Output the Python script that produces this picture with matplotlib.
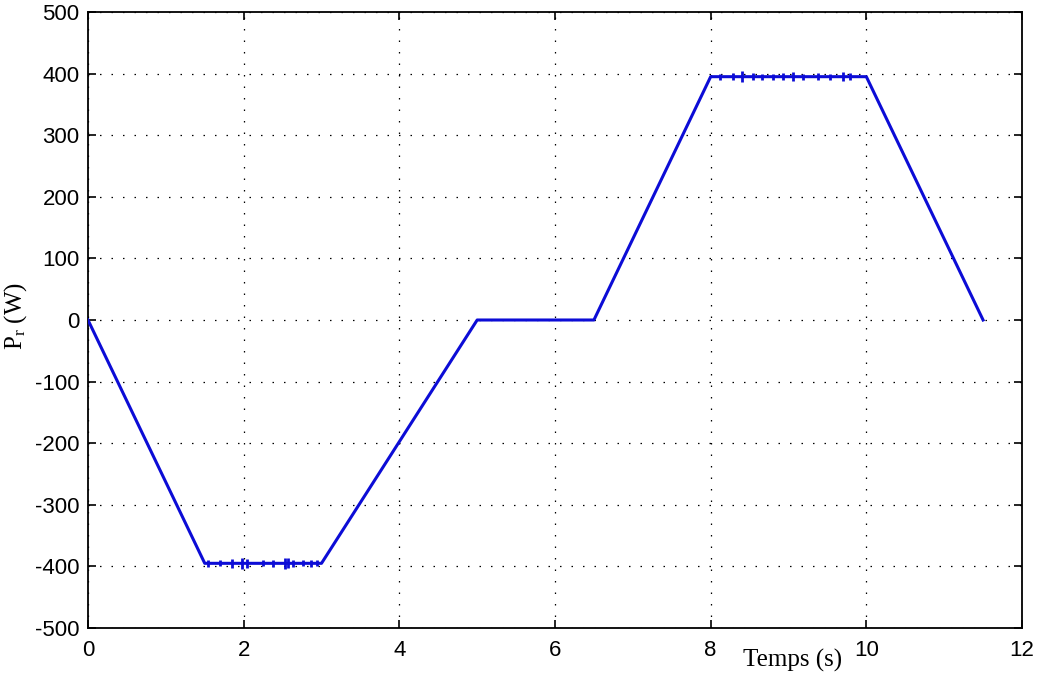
import matplotlib
matplotlib.use("Agg")
import matplotlib.pyplot as plt
import numpy as np

# corner points of the rotor power profile (s, W)
t_pts = [0.0, 1.5, 3.0, 5.0, 6.5, 8.0, 10.0, 11.5]
p_pts = [0.0, -395.0, -395.0, 0.0, 0.0, 395.0, 395.0, 0.0]

# small ripple spikes seen on the plateaus
spk_lo_t = [1.54, 1.70, 1.85, 1.98, 2.04, 2.25, 2.38, 2.53, 2.57, 2.63, 2.76, 2.87, 2.94]
spk_lo_a = [6, 5, 7, 9, 7, 5, 6, 9, 8, 6, 5, 6, 5]
spk_hi_t = [8.12, 8.29, 8.40, 8.54, 8.66, 8.80, 8.93, 9.06, 9.18, 9.38, 9.53, 9.70, 9.79]
spk_hi_a = [5, 6, 9, 6, 5, 5, 6, 7, 5, 6, 5, 7, 6]
spk_lo_base = -395.0
spk_hi_base = 395.0

xticks = [0, 2, 4, 6, 8, 10, 12]
yticks = [-500, -400, -300, -200, -100, 0, 100, 200, 300, 400, 500]

plt.rcParams['mathtext.fontset'] = 'custom'
plt.rcParams['mathtext.rm'] = 'Liberation Serif'
plt.rcParams['mathtext.it'] = 'Liberation Serif:italic'

fig = plt.figure(figsize=(10.37, 6.79), dpi=100)
ax = fig.add_axes([88/1037, 51/679, 934/1037, 616/679])

line_col = '#0c0cd6'
ax.plot(t_pts, p_pts, color=line_col, linewidth=2.2, zorder=3)
ax.vlines(spk_lo_t, spk_lo_base - np.array(spk_lo_a), spk_lo_base + np.array(spk_lo_a),
          color=line_col, linewidth=2.0, zorder=3)
ax.vlines(spk_hi_t, spk_hi_base - np.array(spk_hi_a), spk_hi_base + np.array(spk_hi_a),
          color=line_col, linewidth=2.0, zorder=3)

ax.set_xlim(0, 12)
ax.set_ylim(-500, 500)
ax.set_xticks(xticks)
ax.set_yticks(yticks)
ax.set_xticklabels([str(v) for v in xticks], fontfamily='Liberation Sans', fontsize=16)
ax.set_yticklabels([str(v) for v in yticks], fontfamily='Liberation Sans', fontsize=16)
ax.tick_params(direction='in', length=6, width=1.2, top=True, right=True)
ax.tick_params(axis='x', pad=9)
ax.tick_params(axis='y', pad=6)

ax.grid(True, color='black', linestyle=(0, (1.2, 8)), linewidth=0.9)
for s in ax.spines.values():
    s.set_linewidth(1.3)

ax.set_xlabel('Temps (s)', fontfamily='Liberation Serif', fontsize=18)
ax.xaxis.set_label_coords((793 - 88) / 934, -(660 - 628) / 616)
ax.xaxis.label.set_verticalalignment('center')
ax.set_ylabel(r'P$_{\mathrm{r}}$ (W)', fontfamily='Liberation Serif', fontsize=18)
ax.yaxis.set_label_coords(-(88 - 16) / 934, (628 - 316) / 616)
ax.yaxis.label.set_verticalalignment('center')

plt.savefig('out.png', dpi=100)
